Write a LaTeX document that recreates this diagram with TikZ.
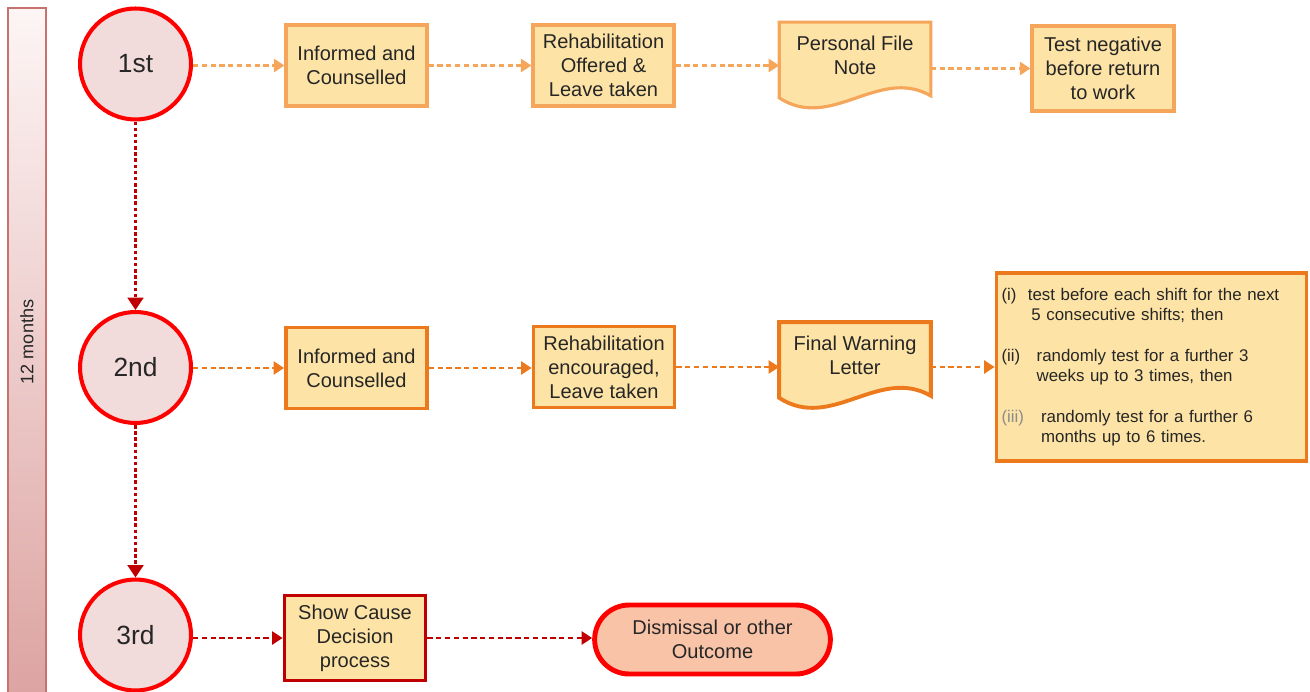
\documentclass[tikz,border=0pt]{standalone}
\usepackage{fontspec}
\setmainfont{Liberation Sans}
\usetikzlibrary{arrows.meta,calc,shapes.misc,backgrounds}
\definecolor{stagered}{HTML}{FF0000}
\definecolor{stagefill}{HTML}{F2DCDB}
\definecolor{boxfill}{HTML}{FDE4A6}
\definecolor{lightorange}{HTML}{F5A65B}
\definecolor{darkorange}{HTML}{EC7A1C}
\definecolor{deepred}{HTML}{C00000}
\definecolor{outfill}{HTML}{F9C3A8}
\definecolor{barline}{HTML}{C8726E}
\definecolor{bartop}{HTML}{FDF5F5}
\definecolor{barbot}{HTML}{DCA3A1}
% wavy bottom of a document box, drawn behind its node
\newcommand\docwave[2]{\scoped[on background layer]\draw[#2] (#1.north west) -- (#1.north east)
  -- ($(#1.south east)+(0,8)$) .. controls ($(#1.south east)+(-52,-22)$) and ($(#1.south west)+(52,44)$)
  .. ($(#1.south west)+(0,10)$) -- cycle;}

\begin{document}
\begin{tikzpicture}[x=0.02cm, y=-0.02cm,
    every node/.style={font=\fontsize{11.4}{13.6}\selectfont, align=center, text=black!85},
    stage/.style={circle, draw=stagered, line width=2.3pt, fill=stagefill, minimum size=2.22cm,
      font=\fontsize{15}{18}\selectfont},
    actone/.style={rectangle, draw=lightorange, line width=1.8pt, fill=boxfill,
      minimum width=2.82cm, minimum height=1.62cm, inner sep=1pt},
    acttwo/.style={actone, draw=darkorange, line width=2.2pt},
    actthree/.style={actone, draw=deepred, line width=2.2pt},
    docnode/.style={minimum width=3.02cm, minimum height=1.3cm, inner sep=1pt},
    flowone/.style={draw=lightorange, line width=1.2pt, dash pattern=on 3pt off 2pt, -{Triangle[length=6pt,width=7.5pt]}},
    flowtwo/.style={flowone, draw=darkorange},
    flowthree/.style={flowone, draw=deepred},
    escalate/.style={draw=deepred, line width=1.3pt, dash pattern=on 2pt off 1.5pt, -{Triangle[length=7pt,width=9pt]}},
    outcome/.style={rounded rectangle, draw=stagered, line width=2.8pt, fill=outfill,
      minimum width=4.95cm, minimum height=1.38cm}]
	\useasboundingbox (0,0) rectangle (1310,692);

	%%%%% time bar %%%%%
	\draw[draw=barline, line width=0.8pt, top color=bartop, bottom color=barbot] (8,8) rectangle (46,700);
	\node[rotate=90, font=\fontsize{10.3}{12}\selectfont] (span) at (27,342) {12 months};

	%%%%% stages %%%%%
	\node[stage] (c1) at (135.5,64) {1st};
	\node[stage] (c2) at (135.5,367.5) {2nd};
	\node[stage] (c3) at (135.5,635) {3rd};

	%%%%% first %%%%%
	\node[actone] (ic1) at (356.5,65.5) {Informed and\\Counselled};
	\node[actone] (ro1) at (603.5,65.5) {Rehabilitation\\Offered \&\\Leave taken};
	\node[docnode] (pf1) at (855,55) {Personal File\\Note};
	\docwave{pf1}{draw=lightorange, line width=1.8pt, fill=boxfill}
	\node[actone, minimum width=2.84cm, minimum height=1.7cm] (tn1) at (1103,68.5) {Test negative\\before return\\to work};

	\draw[flowone] (c1.east |- ic1.west) -- (ic1.west);
	\draw[flowone] (ic1.east) -- (ro1.west);
	\draw[flowone] (ro1.east) -- (ro1.east -| pf1.west);
	\draw[flowone] (pf1.east |- tn1.west) -- (tn1.west);

	%%%%% second %%%%%
	\node[acttwo] (ic2) at (356.5,368) {Informed and\\Counselled};
	\node[acttwo] (re2) at (604,367) {Rehabilitation\\encouraged,\\Leave taken};
	\node[docnode] (fw2) at (855,355) {Final Warning\\Letter};
	\docwave{fw2}{draw=darkorange, line width=2.2pt, fill=boxfill}
	\node[acttwo, minimum width=6.2cm, minimum height=3.76cm, text width=6.0cm, align=left,
	  inner xsep=0.1cm, font=\fontsize{9.6}{11.3}\selectfont] (tp2) at (1151.5,367) {%
	  \makebox[15pt][l]{(i)}test before each shift for the next\\
	  \hspace*{17pt}5 consecutive shifts; then\\[12pt]
	  \makebox[20pt][l]{(ii)}randomly test for a further 3\\
	  \hspace*{20pt}weeks up to 3 times, then\\[12pt]
	  \makebox[22.5pt][l]{\textcolor{black!45}{(iii)}}randomly test for a further 6\\
	  \hspace*{22.5pt}months up to 6 times.};

	\draw[flowtwo] (c2.east |- ic2.west) -- (ic2.west);
	\draw[flowtwo] (ic2.east) -- (ic2.east -| re2.west);
	\draw[flowtwo] (re2.east) -- (re2.east -| fw2.west);
	\draw[flowtwo] (fw2.east |- tp2.west) -- (tp2.west);

	%%%%% third %%%%%
	\node[actthree, minimum height=1.7cm] (sc3) at (355,638) {Show Cause\\Decision\\process};
	\node[outcome] (dm3) at (712.5,639.5) {Dismissal or other\\Outcome};

	\draw[flowthree] (c3.east |- sc3.west) -- (sc3.west);
	\draw[flowthree] (sc3.east) -- (sc3.east -| dm3.west);

	%%%%% escalation %%%%%
	\draw[escalate] (c1) -- (c2);
	\draw[escalate] (c2) -- (c3);
\end{tikzpicture}
\end{document}
